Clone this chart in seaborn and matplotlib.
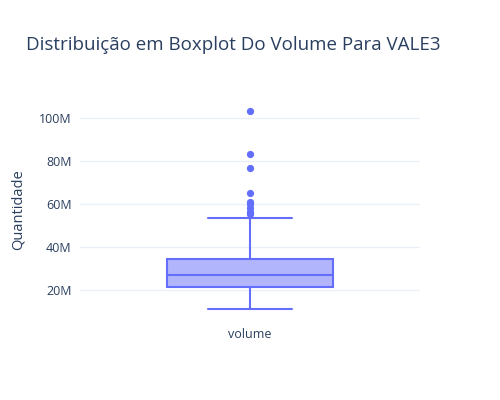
import numpy as np
import seaborn as sns
import matplotlib.pyplot as plt

# box statistics for "volume" (in millions)
category = "volume"
whisker_low = 11.4
q1 = 21.4
median = 27.1
q3 = 34.6
whisker_high = 53.8
outliers = [55.3, 56.6, 58.1, 60.0, 61.2, 65.1, 77.0, 83.5, 103.5]
yticks = [20, 40, 60, 80, 100]
ytick_labels = ["20M", "40M", "60M", "80M", "100M"]

sns.set_theme(style="white")
plt.rcParams['font.family'] = ['Open Sans', 'DejaVu Sans']

text_col = "#2a3f5f"
box_col = "#636efa"

fig = plt.figure(figsize=(5, 4), dpi=100)
ax = fig.add_axes([0.16, 0.2, 0.68, 0.55])

stats = [{
    "label": category,
    "whislo": whisker_low,
    "q1": q1,
    "med": median,
    "q3": q3,
    "whishi": whisker_high,
    "fliers": np.array(outliers),
}]
ax.bxp(stats, positions=[0], widths=0.49, capwidths=0.247, patch_artist=True,
       boxprops=dict(facecolor="#b1b6fc", edgecolor=box_col, linewidth=1.5),
       medianprops=dict(color=box_col, linewidth=1.5),
       whiskerprops=dict(color=box_col, linewidth=1.5),
       capprops=dict(color=box_col, linewidth=1.5),
       flierprops=dict(marker="o", markerfacecolor=box_col, markeredgecolor=box_col,
                       markersize=4.2, linestyle="none"))

ax.set_xlim(-0.5, 0.5)
ax.set_ylim(6.2, 108.5)
ax.set_yticks(yticks)
ax.set_yticklabels(ytick_labels)
ax.yaxis.grid(True, color="#ebf0f8", linewidth=1)
ax.set_axisbelow(True)
for s in ax.spines.values():
    s.set_visible(False)
ax.tick_params(axis="both", length=0, labelsize=9, colors=text_col, pad=6)
ax.set_ylabel("Quantidade", fontsize=10.5, color=text_col, labelpad=10)

fig.text(0.052, 0.875, "Distribuição em Boxplot Do Volume Para VALE3",
         fontsize=13.5, color=text_col, va="baseline")

fig.savefig("out.png", dpi=100)
